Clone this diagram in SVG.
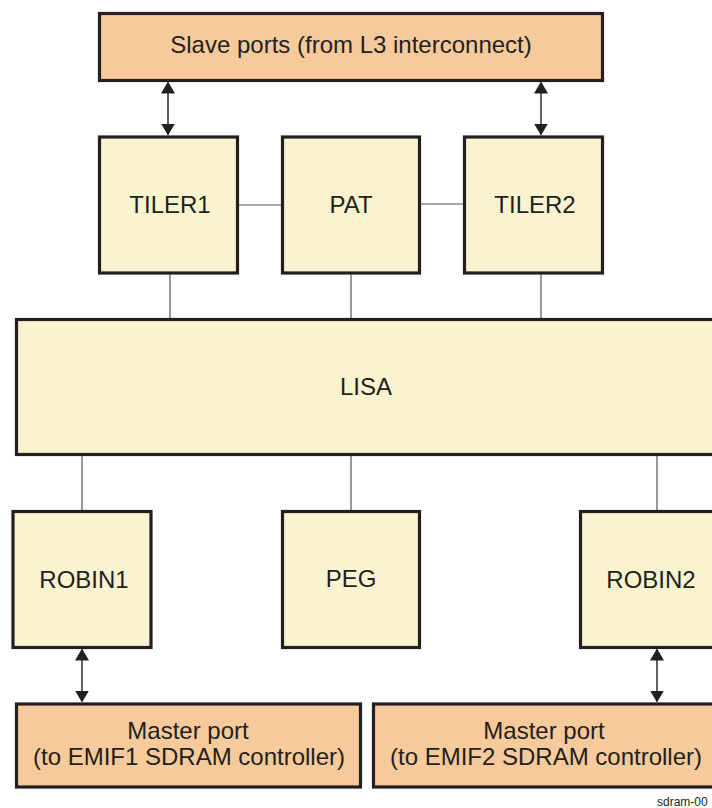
<svg xmlns="http://www.w3.org/2000/svg" width="712" height="808" viewBox="0 0 712 808">
<defs>
<style>
.y{fill:#faf3cf;stroke:#231f20;stroke-width:3.2}
.o{fill:#f7ca9b;stroke:#231f20;stroke-width:3.2}
.t{font-family:"Liberation Sans",Arial,sans-serif;font-size:24px;fill:#231f20;text-anchor:middle}
.l{stroke:#555;stroke-width:1.2;fill:none}
.a{stroke:#231f20;stroke-width:1.4;fill:none;marker-start:url(#ah);marker-end:url(#ah)}
</style>
<marker id="ah" viewBox="0 0 12 14" refX="11" refY="7" markerWidth="12" markerHeight="14" markerUnits="userSpaceOnUse" orient="auto-start-reverse">
<path d="M0,0 L12,7 L0,14 Z" fill="#231f20"/>
</marker>
</defs>
<rect width="712" height="808" fill="#fff"/>
<g id="connectors">
<line class="l" x1="238" y1="205" x2="282" y2="205"/>
<line class="l" x1="420" y1="204" x2="464" y2="204"/>
<line class="l" x1="170" y1="274" x2="170" y2="318"/>
<line class="l" x1="351" y1="274" x2="351" y2="318"/>
<line class="l" x1="541" y1="274" x2="541" y2="318"/>
<line class="l" x1="82" y1="455" x2="82" y2="510"/>
<line class="l" x1="351" y1="455" x2="351" y2="510"/>
<line class="l" x1="657" y1="455" x2="657" y2="510"/>
<line class="a" x1="168" y1="82.5" x2="168" y2="134.5"/>
<line class="a" x1="541" y1="82.5" x2="541" y2="134.5"/>
<line class="a" x1="82" y1="649.5" x2="82" y2="701.5"/>
<line class="a" x1="657" y1="649.5" x2="657" y2="701.5"/>
</g>
<g id="slave"><rect class="o" x="99.5" y="13.5" width="503" height="67"/><text class="t" x="351" y="53">Slave ports (from L3 interconnect)</text></g>
<g id="tiler1"><rect class="y" x="99.5" y="137" width="138" height="136"/><text class="t" x="170" y="213">TILER1</text></g>
<g id="pat"><rect class="y" x="282.5" y="137" width="137" height="136"/><text class="t" x="351" y="213">PAT</text></g>
<g id="tiler2"><rect class="y" x="464.5" y="137" width="138" height="136"/><text class="t" x="535" y="213">TILER2</text></g>
<g id="lisa"><rect class="y" x="16.5" y="319.5" width="710" height="135"/><text class="t" x="366" y="395">LISA</text></g>
<g id="robin1"><rect class="y" x="13" y="511.5" width="138" height="136"/><text class="t" x="84" y="588">ROBIN1</text></g>
<g id="peg"><rect class="y" x="282.5" y="511.5" width="137" height="136"/><text class="t" x="351" y="587">PEG</text></g>
<g id="robin2"><rect class="y" x="580.5" y="511.5" width="150" height="136"/><text class="t" x="651" y="588">ROBIN2</text></g>
<g id="master1"><rect class="o" x="16.5" y="704" width="344" height="83"/><text class="t" x="188" y="739">Master port</text><text class="t" x="189" y="765">(to EMIF1 SDRAM controller)</text></g>
<g id="master2"><rect class="o" x="373.5" y="704" width="350" height="83"/><text class="t" x="544" y="739">Master port</text><text class="t" x="546" y="765">(to EMIF2 SDRAM controller)</text></g>
<text x="657" y="806" style="font-family:'Liberation Sans',Arial,sans-serif;font-size:12px;fill:#231f20">sdram-00</text>
</svg>
